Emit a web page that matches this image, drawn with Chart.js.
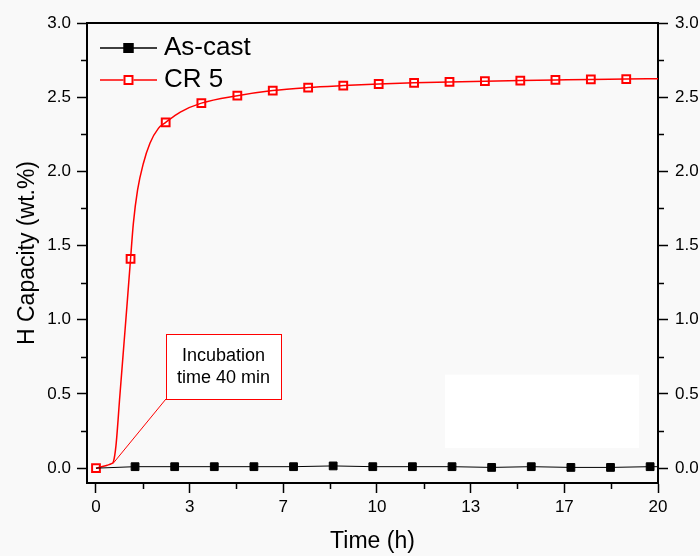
<!DOCTYPE html>
<html>
<head>
<meta charset="utf-8">
<script src="https://cdn.jsdelivr.net/npm/chart.js@4.4.1/dist/chart.umd.min.js"></script>
<style>
  html, body { margin: 0; padding: 0; background: #f9f9f9; }
</style>
</head>
<body>
<canvas id="hChart" width="700" height="556"></canvas>
<script>
// axis ticks (labels on the time axis are rounded to whole hours)
const xTicks = [0, 3.333, 6.667, 10, 13.333, 16.667, 20];
const xMinorTicks = [1.667, 5, 8.333, 11.667, 15, 18.333];
const yTicks = [0, 0.5, 1.0, 1.5, 2.0, 2.5, 3.0];
const yMinorTicks = [0.25, 0.75, 1.25, 1.75, 2.25, 2.75];

// As-cast: flat line + markers
const asCastLineT = [0, 1.39, 2.80, 4.21, 5.62, 7.03, 8.44, 9.85, 11.26, 12.67, 14.08, 15.49, 16.90, 18.31, 19.72, 20];
const asCastLineH = [0, 0.01, 0.01, 0.01, 0.01, 0.01, 0.015, 0.01, 0.01, 0.01, 0.005, 0.01, 0.005, 0.005, 0.01, 0.01];
const asCastMarkT = [1.39, 2.80, 4.21, 5.62, 7.03, 8.44, 9.85, 11.26, 12.67, 14.08, 15.49, 16.90, 18.31, 19.72];
const asCastMarkH = [0.01, 0.01, 0.01, 0.01, 0.01, 0.015, 0.01, 0.01, 0.01, 0.005, 0.01, 0.005, 0.005, 0.01];

// CR 5: measured curve + markers
const cr5LineT = [0, 0.2, 0.4, 0.55, 0.62, 0.71, 0.85, 1.0, 1.1, 1.23, 1.33, 1.48, 1.68, 1.92, 2.22, 2.48, 3.0, 3.75,
                  5.03, 6.29, 7.55, 8.80, 10.06, 11.32, 12.58, 13.84, 15.10, 16.35, 17.61, 18.87, 20];
const cr5LineH = [0, 0.01, 0.02, 0.03, 0.044, 0.15, 0.49, 0.85, 1.09, 1.41, 1.65, 1.875, 2.05, 2.19, 2.29, 2.33, 2.40, 2.46,
                  2.51, 2.545, 2.565, 2.578, 2.589, 2.597, 2.603, 2.608, 2.612, 2.616, 2.62, 2.622, 2.625];
const cr5MarkT = [0, 1.23, 2.48, 3.75, 5.03, 6.29, 7.55, 8.80, 10.06, 11.32, 12.58, 13.84, 15.10, 16.35, 17.61, 18.87];
const cr5MarkH = [0, 1.41, 2.33, 2.46, 2.51, 2.545, 2.565, 2.578, 2.589, 2.597, 2.603, 2.608, 2.612, 2.616, 2.62, 2.622];

const seriesNames = ["As-cast", "CR 5"];
const noteLines = ["Incubation", "time 40 min"];

const FONT = "'Liberation Sans', Arial, sans-serif";
Chart.defaults.font.family = FONT;
Chart.defaults.color = "#000";

const toXY = (ts, hs) => ts.map((t, i) => ({ x: t, y: hs[i] }));

// legend symbol: short line with the marker in the middle
function legendSymbol(color, fill) {
    const c = document.createElement("canvas");
    c.width = 70;
    c.height = 16;
    const g = c.getContext("2d");
    g.strokeStyle = color;
    g.lineWidth = 1.5;
    g.beginPath();
    g.moveTo(13, 8);
    g.lineTo(70, 8);
    g.stroke();
    g.fillStyle = fill;
    g.fillRect(36.5, 3, 10, 10);
    g.lineWidth = 2;
    g.strokeRect(37.5, 4, 8, 8);
    return c;
}

const bgPlugin = {
    id: "bg",
    beforeDraw(chart) {
        const ctx = chart.ctx;
        ctx.save();
        ctx.fillStyle = "#f9f9f9";
        ctx.fillRect(0, 0, chart.width, chart.height);
        ctx.restore();
    },
    beforeDatasetsDraw(chart) {
        // blank white patch in the lower right of the original figure
        const { ctx, scales: { x, y } } = chart;
        ctx.save();
        ctx.fillStyle = "#ffffff";
        const x0 = x.getPixelForValue(12.42), x1 = x.getPixelForValue(19.32);
        const y0 = y.getPixelForValue(0.63), y1 = y.getPixelForValue(0.135);
        ctx.fillRect(x0, y0, x1 - x0, y1 - y0);
        ctx.restore();
    }
};

// the chartArea legend gets top = 0 after fit, pin it inside the plot
const legendPinPlugin = {
    id: "legendPin",
    afterLayout(chart) {
        if (chart.legend) {
            chart.legend.top = chart.chartArea.top + 6;
            chart.legend.left = chart.chartArea.left;
        }
    }
};

const framePlugin = {
    id: "frame",
    afterDraw(chart) {
        const { ctx, chartArea: a, scales: { x, y } } = chart;
        ctx.save();
        ctx.strokeStyle = "#000";
        // top border
        ctx.lineWidth = 2;
        ctx.beginPath();
        ctx.moveTo(a.left - 1, a.top);
        ctx.lineTo(a.right + 1, a.top);
        ctx.stroke();
        // minor ticks
        ctx.lineWidth = 1.5;
        ctx.beginPath();
        xMinorTicks.forEach(v => {
            const px = Math.round(x.getPixelForValue(v)) + 0.5;
            ctx.moveTo(px, a.bottom);
            ctx.lineTo(px, a.bottom + 6);
        });
        yMinorTicks.forEach(v => {
            const py = Math.round(y.getPixelForValue(v)) + 0.5;
            ctx.moveTo(a.left, py);
            ctx.lineTo(a.left - 6, py);
            ctx.moveTo(a.right, py);
            ctx.lineTo(a.right + 6, py);
        });
        ctx.stroke();
        ctx.restore();
    }
};

const notePlugin = {
    id: "note",
    afterDatasetsDraw(chart) {
        const { ctx, scales: { x, y } } = chart;
        const left = x.getPixelForValue(2.49), right = x.getPixelForValue(6.58);
        const top = y.getPixelForValue(0.905), bottom = y.getPixelForValue(0.466);
        ctx.save();
        ctx.strokeStyle = "#ff0000";
        ctx.lineWidth = 1;
        // leader line to the start of absorption
        ctx.beginPath();
        ctx.moveTo(left, bottom);
        ctx.lineTo(x.getPixelForValue(0.6), y.getPixelForValue(0.03));
        ctx.stroke();
        ctx.fillStyle = "#ffffff";
        ctx.fillRect(left, top, right - left, bottom - top);
        ctx.strokeRect(Math.round(left) + 0.5, Math.round(top) + 0.5, Math.round(right - left), Math.round(bottom - top));
        ctx.fillStyle = "#000";
        ctx.font = "18px " + FONT;
        ctx.textAlign = "center";
        ctx.textBaseline = "middle";
        const cx = (left + right) / 2;
        ctx.fillText(noteLines[0], cx, top + 22);
        ctx.fillText(noteLines[1], cx, top + 44);
        ctx.restore();
    }
};

const legendItems = [
    { text: seriesNames[0], pointStyle: legendSymbol("#000", "#000"), datasetIndex: 1, fontColor: "#000", lineWidth: 0, strokeStyle: "transparent", fillStyle: "transparent" },
    { text: seriesNames[1], pointStyle: legendSymbol("#ff0000", "#ffffff"), datasetIndex: 3, fontColor: "#000", lineWidth: 0, strokeStyle: "transparent", fillStyle: "transparent" }
];

const yAxisCommon = {
    type: "linear",
    min: -0.1,
    max: 3.0,
    afterBuildTicks: s => { s.ticks = yTicks.map(v => ({ value: v })); },
    ticks: { font: { size: 17 }, color: "#000", callback: v => v.toFixed(1) },
    grid: { drawOnChartArea: false, tickLength: 10, tickWidth: 1.5, tickColor: "#000" },
    border: { color: "#000", width: 2 }
};

new Chart(document.getElementById("hChart"), {
    type: "line",
    data: {
        datasets: [
            {
                label: seriesNames[0] + " line",
                data: toXY(asCastLineT, asCastLineH),
                borderColor: "#000",
                borderWidth: 1,
                pointRadius: 0,
                tension: 0
            },
            {
                label: seriesNames[0],
                data: toXY(asCastMarkT, asCastMarkH),
                showLine: false,
                pointStyle: "rect",
                pointRadius: 5.5,
                backgroundColor: "#000",
                borderColor: "#000",
                borderWidth: 1
            },
            {
                label: seriesNames[1] + " line",
                data: toXY(cr5LineT, cr5LineH),
                borderColor: "#ff0000",
                borderWidth: 1.5,
                pointRadius: 0,
                cubicInterpolationMode: "monotone"
            },
            {
                label: seriesNames[1],
                data: toXY(cr5MarkT, cr5MarkH),
                showLine: false,
                pointStyle: "rect",
                pointRadius: 5.5,
                backgroundColor: "#ffffff",
                borderColor: "#ff0000",
                borderWidth: 2
            }
        ]
    },
    options: {
        responsive: false,
        animation: false,
        layout: { padding: { top: 23, left: 0, right: 0, bottom: 0 } },
        plugins: {
            tooltip: { enabled: false },
            legend: {
                position: "chartArea",
                align: "start",
                labels: {
                    usePointStyle: true,
                    pointStyleWidth: 58,
                    padding: 6,
                    font: { size: 26 },
                    color: "#000",
                    generateLabels: () => legendItems
                }
            }
        },
        scales: {
            x: {
                type: "linear",
                position: "bottom",
                min: -0.32,
                max: 20,
                afterBuildTicks: s => { s.ticks = xTicks.map(v => ({ value: v })); },
                ticks: { font: { size: 17 }, color: "#000", padding: 4, maxRotation: 0, autoSkip: false,
                         callback: v => Math.round(v) },
                grid: { drawOnChartArea: false, tickLength: 10, tickWidth: 1.5, tickColor: "#000" },
                border: { color: "#000", width: 2 },
                title: { display: true, text: "Time (h)", font: { size: 23 }, color: "#000", padding: { top: 0, bottom: 1 } },
                afterFit: s => { s.height = 73; }
            },
            y: Object.assign({}, yAxisCommon, {
                position: "left",
                ticks: Object.assign({}, yAxisCommon.ticks, { padding: 6 }),
                title: { display: true, text: "H Capacity (wt.%)", font: { size: 23 }, color: "#000", padding: { top: 14, bottom: 0 } },
                afterFit: s => { s.width = 87; }
            }),
            y2: Object.assign({}, yAxisCommon, {
                position: "right",
                ticks: Object.assign({}, yAxisCommon.ticks, { padding: 7 }),
                afterFit: s => { s.width = 42; }
            })
        }
    },
    plugins: [bgPlugin, legendPinPlugin, notePlugin, framePlugin]
});
</script>
</body>
</html>
